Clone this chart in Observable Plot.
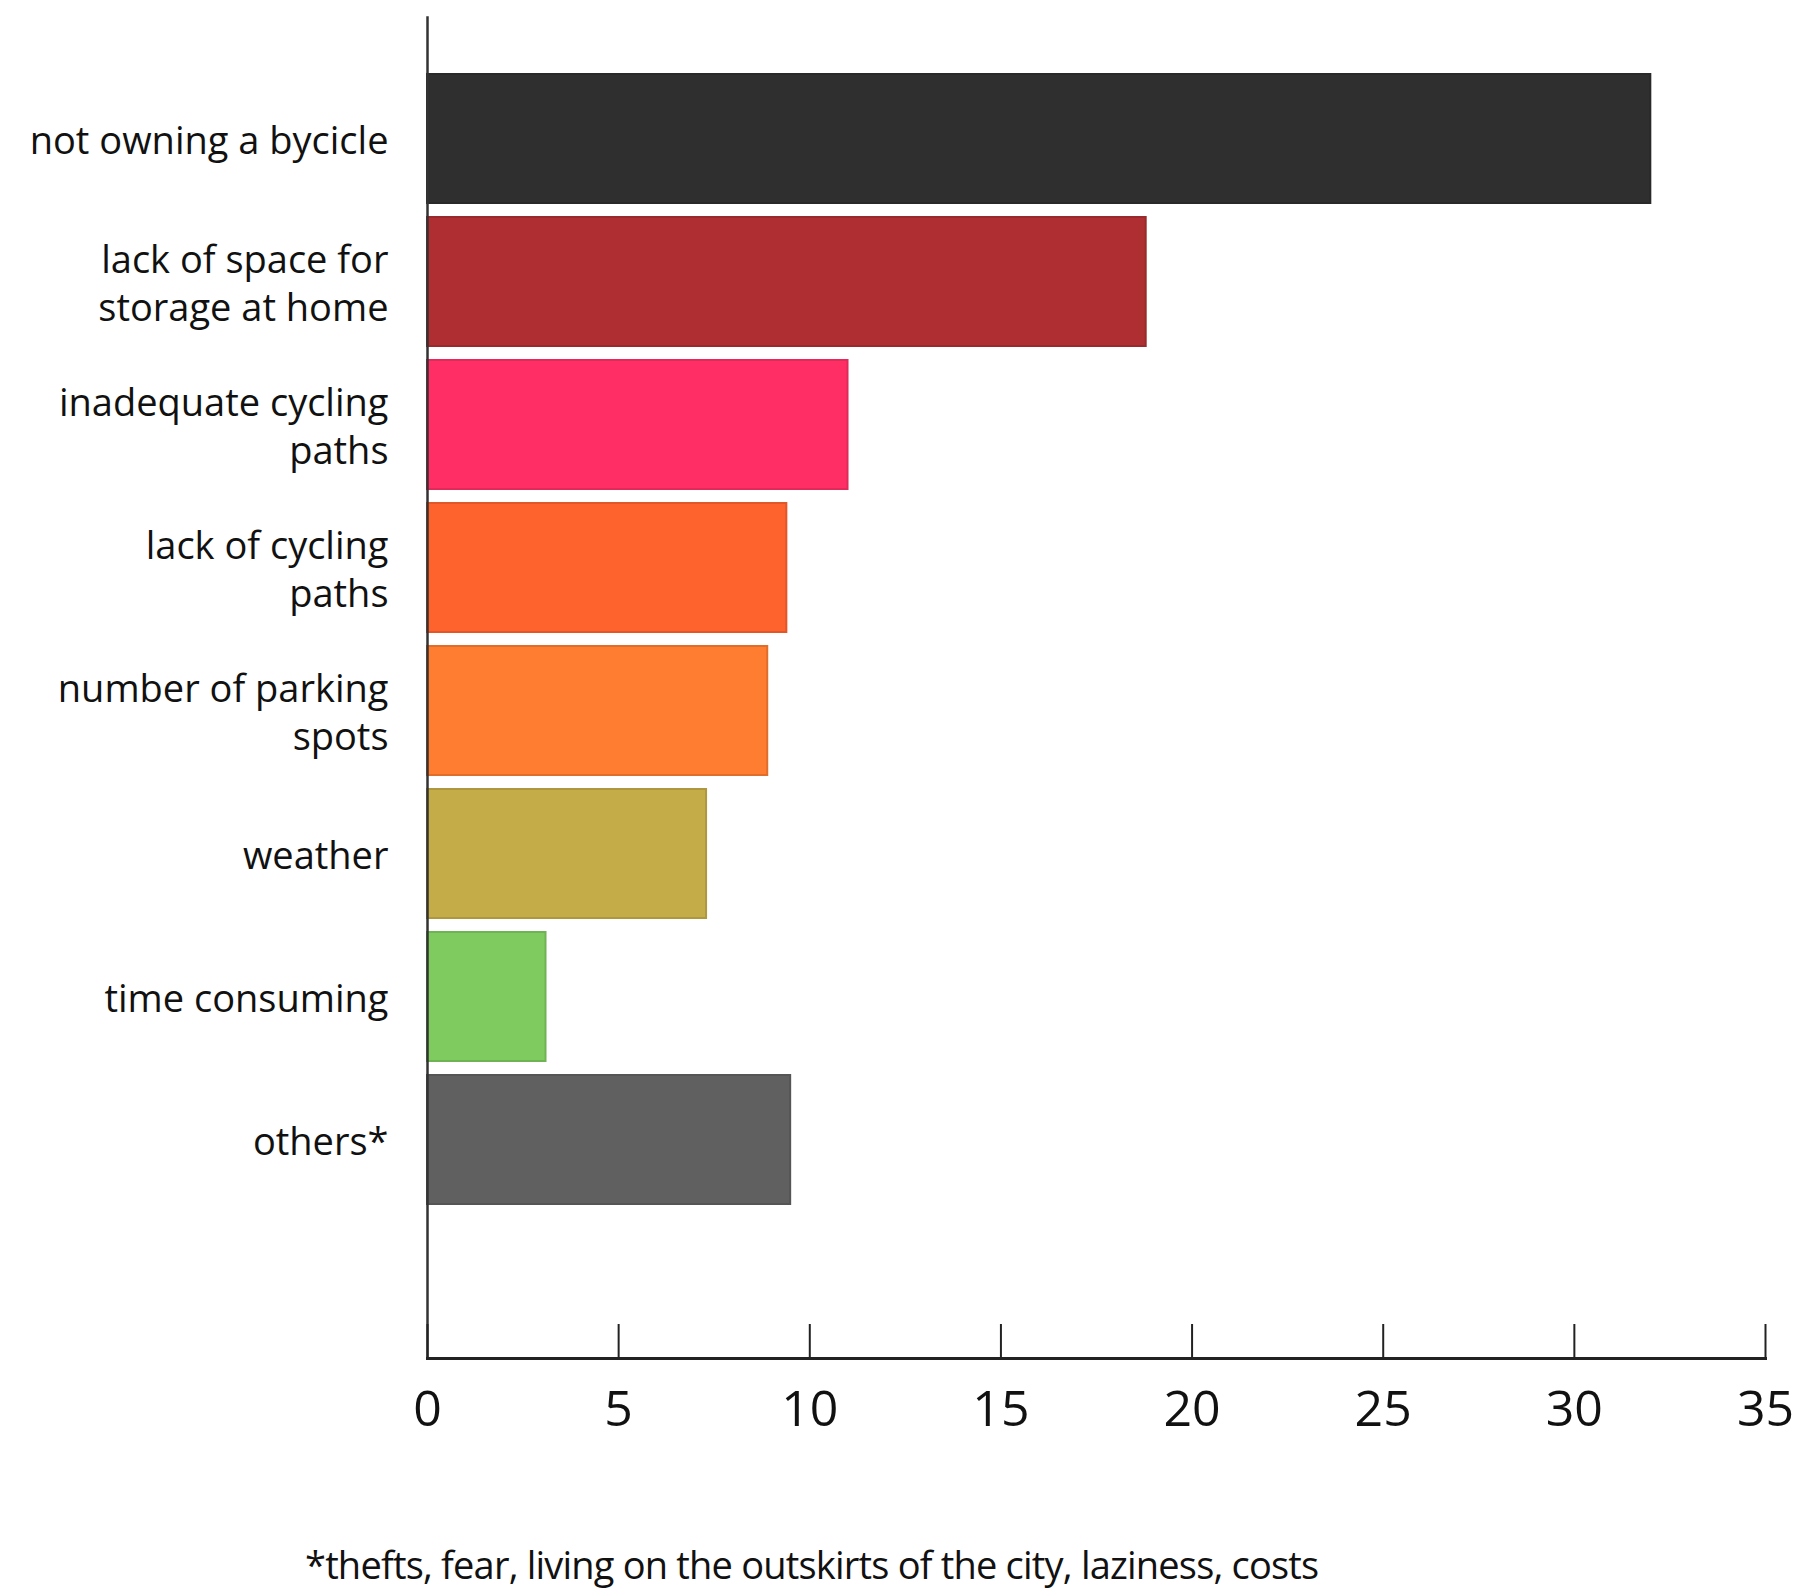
<!DOCTYPE html>
<html>
<head>
<meta charset="utf-8">
<script src="https://cdn.jsdelivr.net/npm/d3@7"></script>
<script src="https://cdn.jsdelivr.net/npm/@observablehq/plot@0.6"></script>
<style>
  html, body { margin: 0; padding: 0; background: #fff; }
  #chart svg { display: block; }
  #caption { font-family: "Open Sans", sans-serif; font-size: 38px; color: #111; padding-left: 305px; margin-top: 38px; letter-spacing: -0.8px; }
</style>
</head>
<body>
<div id="chart"></div>
<div id="caption">*thefts, fear, living on the outskirts of the city, laziness, costs</div>
<script>
const categories = [
  "not owning a bycicle",
  "lack of space for\nstorage at home",
  "inadequate cycling\npaths",
  "lack of cycling\npaths",
  "number of parking\nspots",
  "weather",
  "time consuming",
  "others*"
];
const values = [32, 18.8, 11.0, 9.4, 8.9, 7.3, 3.1, 9.5];
const colors = ["#2f2f2f", "#ae2e31", "#ff2f66", "#ff632d", "#fe7d30", "#c4ac48", "#7fcb5f", "#606060"];
const xTicks = [0, 5, 10, 15, 20, 25, 30, 35];

const data = categories.map((c, i) => ({
  category: c,
  value: values[i],
  color: colors[i],
  edge: d3.color(colors[i]).darker(0.35).formatHex()
}));

const chart = Plot.plot({
  width: 1804,
  height: 1500,
  marginLeft: 427,
  marginRight: 39,
  marginTop: 17,
  marginBottom: 142,
  style: { fontFamily: "Open Sans, sans-serif", color: "#111", background: "#fff" },
  color: { type: "identity" },
  x: { domain: [0, 35] },
  y: { type: "band", domain: categories, range: [70, 1207], paddingInner: 0.1, paddingOuter: 0 },
  marks: [
    Plot.barX(data, { x: "value", y: "category", fill: "color", stroke: "edge", strokeWidth: 2 }),
    Plot.frame({ anchor: "left", stroke: "#333", strokeWidth: 2.5 }),
    Plot.frame({ anchor: "bottom", stroke: "#222", strokeWidth: 3 }),
    Plot.axisX({ ticks: xTicks, tickFormat: d => String(d), tickSize: -34, tickPadding: 66, fontSize: 50, label: null, strokeWidth: 2, stroke: "#222" }),
    Plot.axisY({ tickSize: 0, tickPadding: 39, fontSize: 38, label: null, lineHeight: 1.25, letterSpacing: -0.9 })
  ]
});
document.getElementById("chart").appendChild(chart);
</script>
</body>
</html>
